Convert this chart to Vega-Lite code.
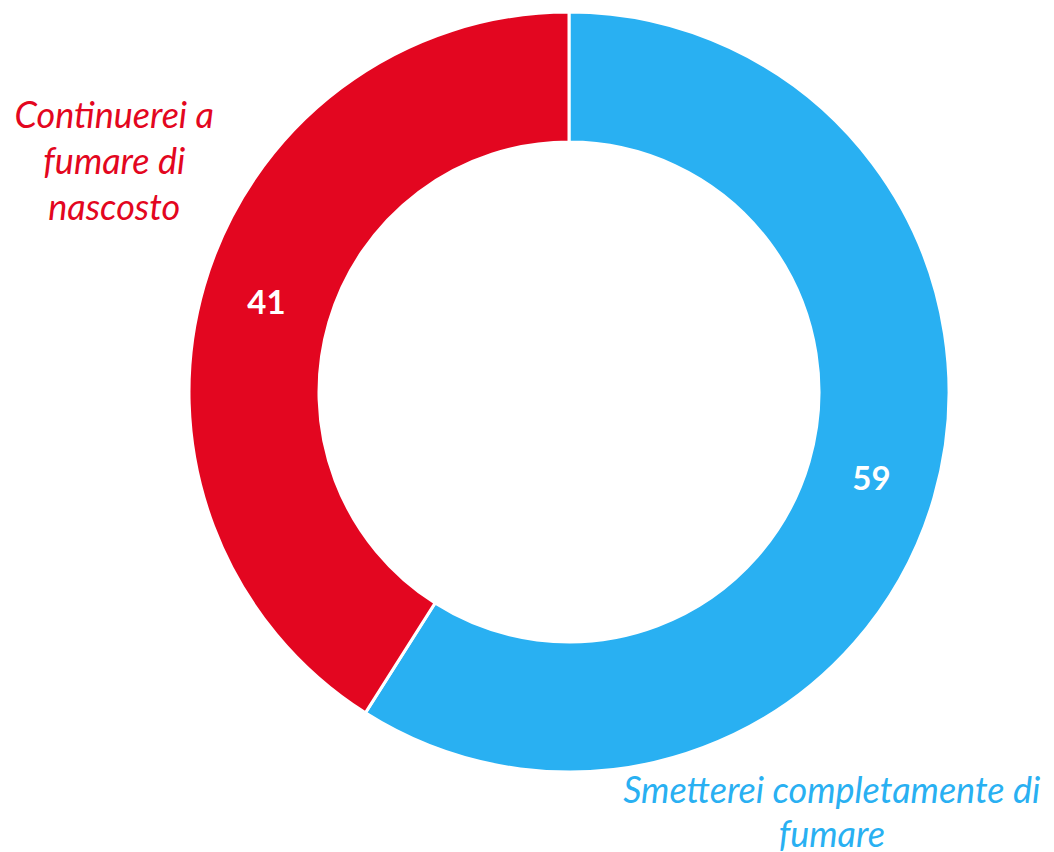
{
  "$schema": "https://vega.github.io/schema/vega-lite/v6.json",
  "width": 970,
  "height": 784,
  "autosize": "none",
  "padding": {"left": 84, "top": 0, "right": 0, "bottom": 68},
  "background": "white",
  "view": {"stroke": null},
  "data": {
    "values": [
      {"category": "Smetterei completamente di", "label": "Smetterei completamente di\nfumare", "value": 59},
      {"category": "Continuerei a fumare di nascosto", "label": "Continuerei a\nfumare di\nnascosto", "value": 41}
    ]
  },
  "encoding": {
    "theta": {"field": "value", "type": "quantitative", "stack": true, "scale": {"domain": [0, 100]}},
    "order": {"field": "value", "type": "quantitative", "sort": "descending"},
    "color": {
      "field": "category",
      "type": "nominal",
      "scale": {"domain": ["Smetterei completamente di", "Continuerei a fumare di nascosto"], "range": ["#29B0F2", "#E30620"]},
      "legend": null
    }
  },
  "layer": [
    {
      "mark": {"type": "arc", "outerRadius": 380, "innerRadius": 250, "stroke": "white", "strokeWidth": 3}
    },
    {
      "mark": {"type": "text", "radius": 315, "font": "Lato", "fontWeight": "bold", "fontSize": 33, "fill": "white", "align": "center", "baseline": "middle"},
      "encoding": {"text": {"field": "value", "type": "quantitative"}, "color": {"value": "white"}}
    },
    {
      "mark": {"type": "text", "radius": 510, "dx": 35, "dy": -133, "font": "Lato", "fontStyle": "italic", "fontSize": 36, "lineBreak": "\n", "lineHeight": 46, "align": "center", "baseline": "middle"},
      "encoding": {
        "text": {"condition": {"test": "datum.value === 41", "field": "label"}, "value": ""}
      }
    },
    {
      "mark": {"type": "text", "radius": 510, "dx": -227, "dy": 258, "font": "Lato", "fontStyle": "italic", "fontSize": 36, "lineBreak": "\n", "lineHeight": 44, "align": "center", "baseline": "middle"},
      "encoding": {
        "text": {"condition": {"test": "datum.value === 59", "field": "label"}, "value": ""}
      }
    }
  ]
}
